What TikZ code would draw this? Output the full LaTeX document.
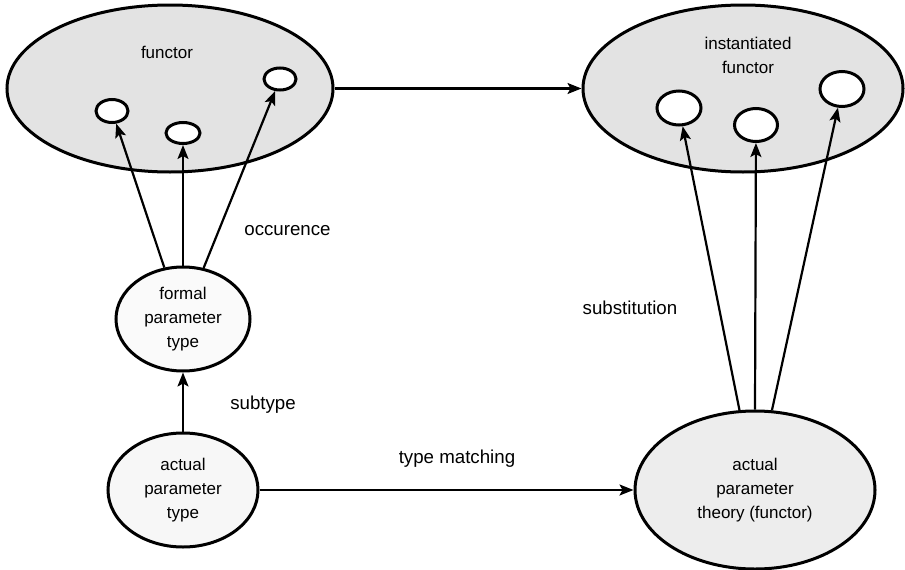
\documentclass[tikz,border=0pt]{standalone}
\usepackage{fontspec}
\setmainfont{Liberation Sans}
\usetikzlibrary{shapes.geometric,arrows.meta}
\begin{document}
\begin{tikzpicture}[x=1pt,y=-1pt,
  blob/.style={draw,ellipse,line width=3pt,inner sep=0pt,align=center,
    font=\fontsize{17}{24}\selectfont},
  hole/.style={draw,ellipse,line width=3pt,fill=white,inner sep=0pt},
  arr/.style={line width=2.2pt,-{Stealth[length=14pt,width=11pt,inset=3pt]}},
  inner/.style={inner sep=0pt,align=center,font=\fontsize{17}{24}\selectfont},
  lbl/.style={font=\fontsize{18.7}{22}\selectfont,anchor=base,inner sep=0pt}]
\useasboundingbox (0,0) rectangle (905,570);

% the two functor ellipses
\node[blob,fill=black!11,minimum width=326pt,minimum height=167pt] (functor) at (170,88.5) {};
\node[blob,fill=black!11,minimum width=320pt,minimum height=167pt] (inst) at (743,88.5) {};
\node[inner] (functorText) at (167,52) {functor};
\node[inner] (instText) at (748,55) {instantiated\\functor};

% occurrences inside the functor
\node[hole,minimum width=32pt,minimum height=23pt] (c1) at (112,111) {};
\node[hole,minimum width=34pt,minimum height=21pt] (c2) at (183,133) {};
\node[hole,minimum width=32pt,minimum height=22pt] (c3) at (280,79) {};

% substituted places inside the instantiated functor
\node[hole,minimum width=44pt,minimum height=34pt] (d1) at (679,108) {};
\node[hole,minimum width=43pt,minimum height=33pt] (d2) at (756,125) {};
\node[hole,minimum width=44pt,minimum height=35pt] (d3) at (842,89) {};

% parameter ellipses
\node[blob,fill=black!2,minimum width=134pt,minimum height=104pt] (formal) at (183,319)
  {formal\\parameter\\type};
\node[blob,fill=black!3,minimum width=150pt,minimum height=114pt] (actual) at (183,490)
  {actual\\parameter\\type};
\node[blob,fill=black!7,minimum width=240pt,minimum height=158pt] (theory) at (755,490)
  {actual\\parameter\\theory (functor)};

% connectors
\draw[arr] (functor.east) -- (inst.west);
\draw[arr] (formal.110) -- (c1);
\draw[arr] (formal.north) -- (c2);
\draw[arr] (formal.68) -- (c3);
\draw[arr] (actual.north) -- (formal.south);
\draw[arr] (actual.east) -- (theory.west);
\draw[arr] (theory.101) -- (d1);
\draw[arr] (theory.north) -- (d2);
\draw[arr] (theory.78) -- (d3);

% connector labels
\node[lbl] (occ) at (287.5,235) {occurence};
\node[lbl] (sub) at (263,409) {subtype};
\node[lbl] (match) at (457,463) {type matching};
\node[lbl] (subst) at (630,314) {substitution};
\end{tikzpicture}
\end{document}
